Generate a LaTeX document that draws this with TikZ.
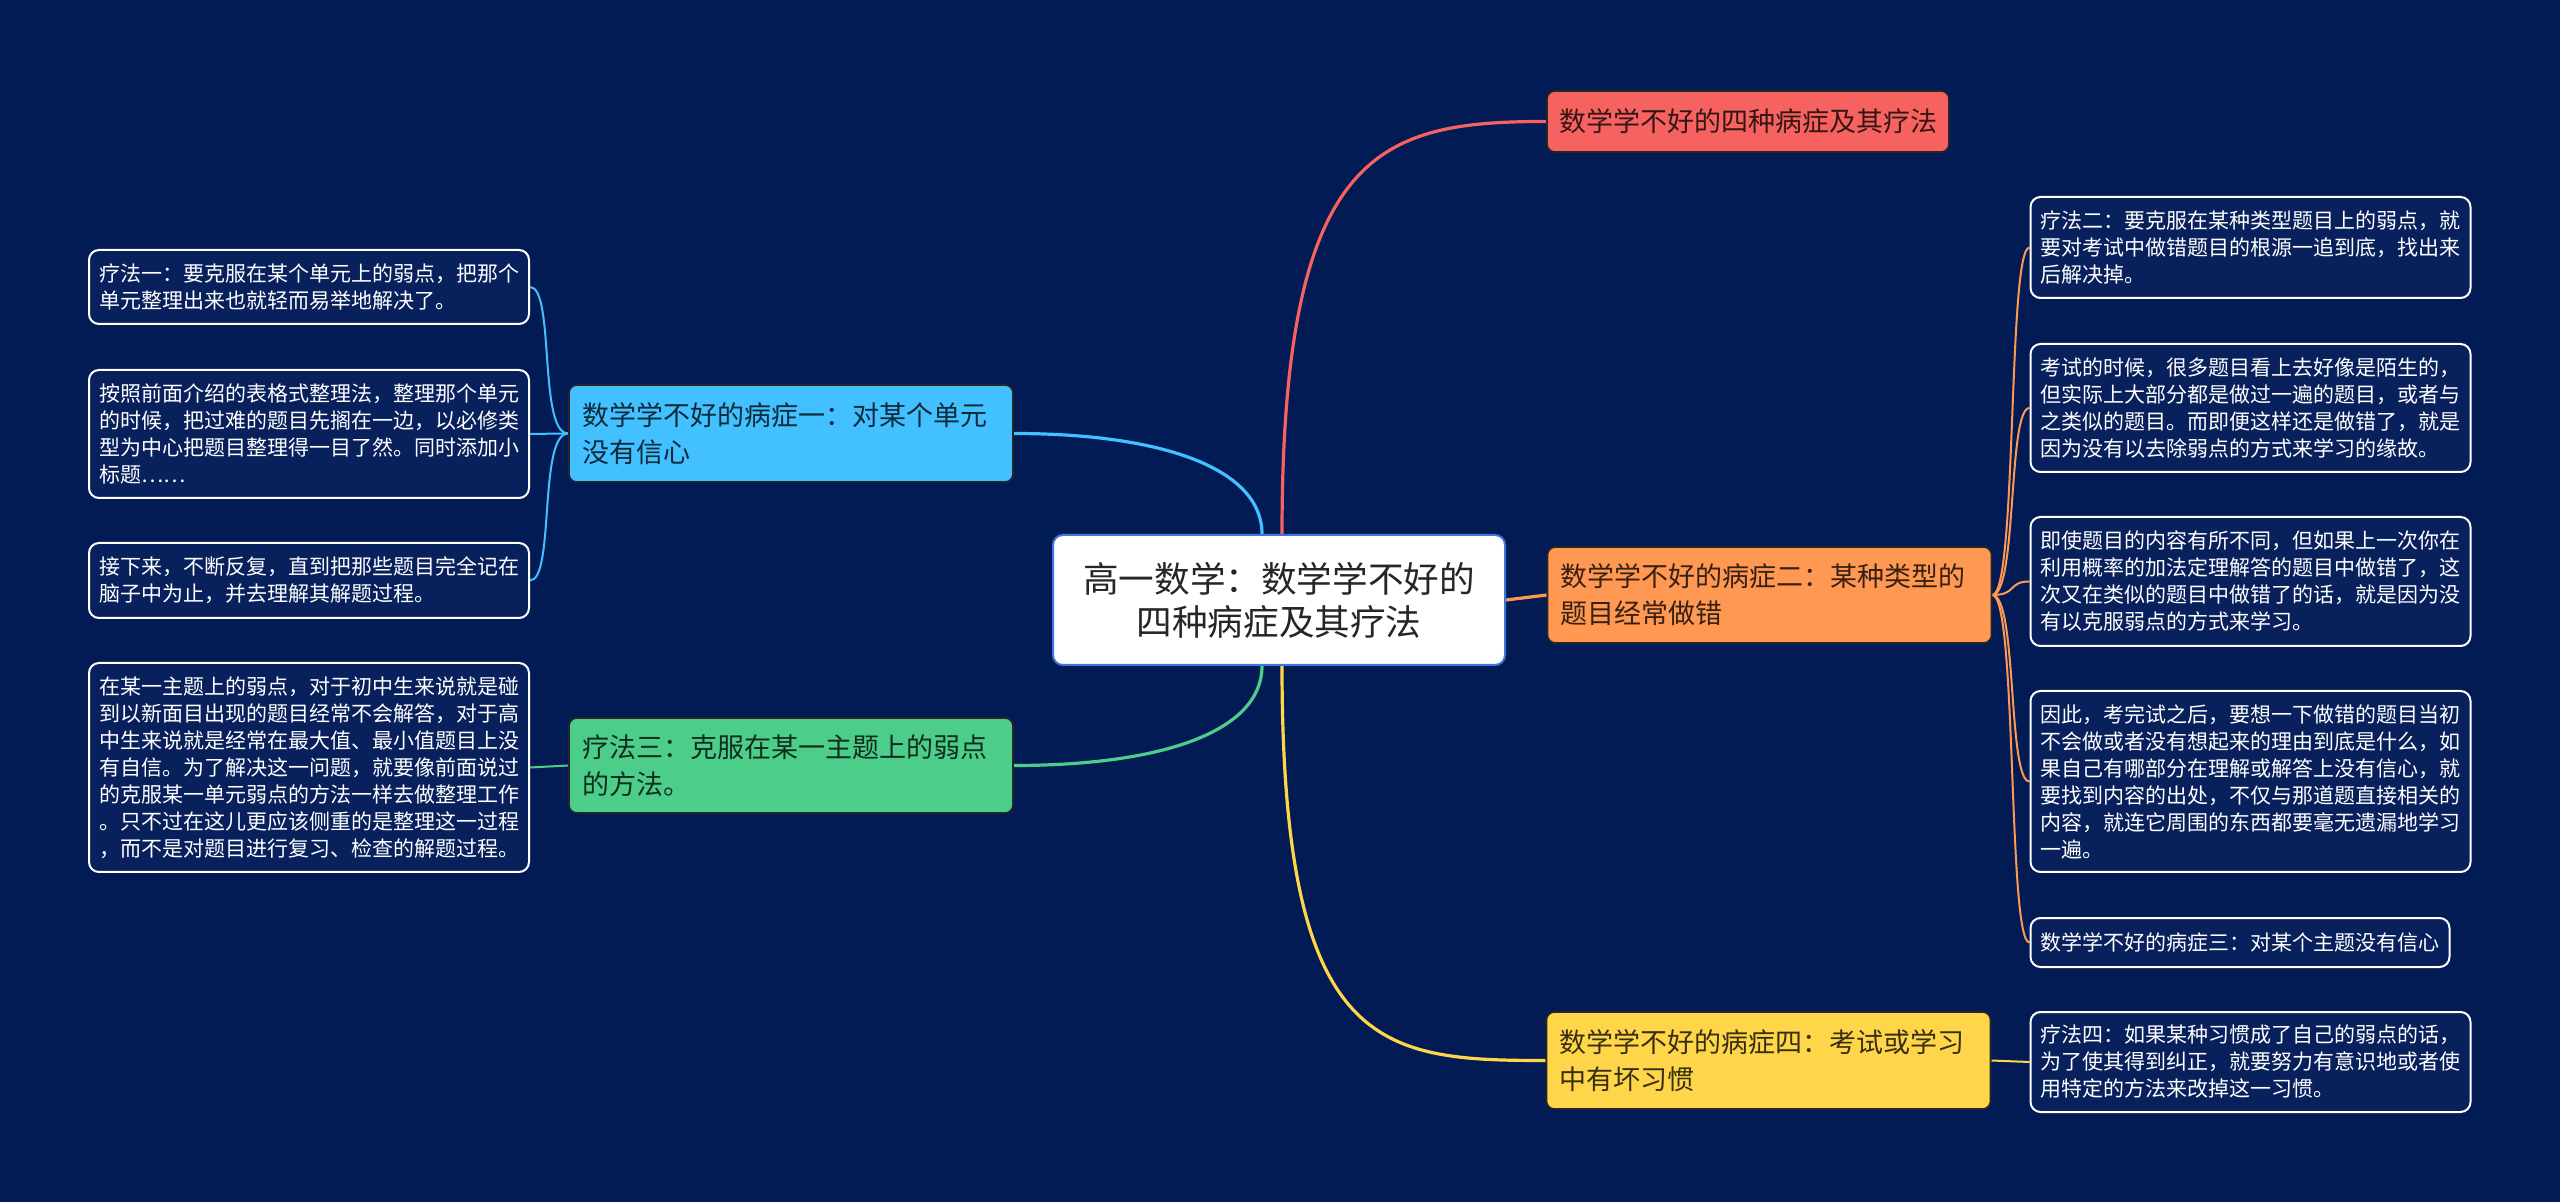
\documentclass[tikz,border=0pt]{standalone}
\usepackage{fontspec}
\setmainfont{Noto Sans CJK SC}
\usetikzlibrary{backgrounds}
\definecolor{bgc}{RGB}{3,27,84}
\definecolor{leaffill}{RGB}{8,32,92}
\definecolor{rootborder}{RGB}{60,120,220}
\definecolor{cred}{RGB}{245,98,96}
\definecolor{corange}{RGB}{255,152,82}
\definecolor{cyellow}{RGB}{255,214,74}
\definecolor{cblue}{RGB}{66,192,255}
\definecolor{cgreen}{RGB}{76,206,138}
\tikzset{
  rootbox/.style={fill=white, draw=rootborder, line width=1pt, rounded corners=5pt,
    font=\fontsize{17.8pt}{21.5pt}\selectfont, text=black!85, align=center,
    minimum width=226pt, minimum height=65pt, inner sep=0pt},
  topic/.style={rounded corners=4pt, draw=black!85, line width=0.8pt, fill=#1, text=#1!22!black,
    font=\fontsize{13.5pt}{18.5pt}\selectfont, inner xsep=6.5pt, inner ysep=0pt},
  topicw/.style={topic=#1, text width=209pt, align=left},
  leaf/.style={fill=leaffill, draw=white, line width=1pt, rounded corners=5pt, text=white,
    font=\fontsize{10.5pt}{13.5pt}\selectfont, inner xsep=5pt, inner ysep=0pt},
  leafw/.style={leaf, text width=210pt, align=left},
  mainlink/.style={line width=1.6pt},
  sublink/.style={line width=1pt},
}
\begin{document}
\begin{tikzpicture}[x=0.5pt,y=-0.5pt]
\useasboundingbox (0,0) rectangle (2560,1202);
% root
\node[rootbox] (root) at (1279,600) {高一数学：数学学不好的\\四种病症及其疗法};
% main topics
\node[topicw=cblue, minimum height=48.5pt] (blue) at (791,433.5) {数学学不好的病症一：对某个单元\\没有信心};
\node[topicw=cgreen, minimum height=47.5pt] (green) at (791,765.5) {疗法三：克服在某一主题上的弱点\\的方法。};
\node[topic=cred, minimum height=30.5pt, inner xsep=6pt] (red) at (1748,121.5) {数学学不好的四种病症及其疗法};
\node[topicw=corange, minimum height=48pt] (orange) at (1769.5,595) {数学学不好的病症二：某种类型的\\题目经常做错};
\node[topicw=cyellow, minimum height=48.5pt] (yellow) at (1768.5,1060.5) {数学学不好的病症四：考试或学习\\中有坏习惯};
% left leaves
\node[leafw, minimum height=37pt] (L1) at (309,287) {疗法一：要克服在某个单元上的弱点，把那个\\单元整理出来也就轻而易举地解决了。};
\node[leafw, minimum height=64pt] (L2) at (309,434) {按照前面介绍的表格式整理法，整理那个单元\\的时候，把过难的题目先搁在一边，以必修类\\型为中心把题目整理得一目了然。同时添加小\\标题……};
\node[leafw, minimum height=37.5pt] (L3) at (309,580.5) {接下来，不断反复，直到把那些题目完全记在\\脑子中为止，并去理解其解题过程。};
\node[leafw, minimum height=104.5pt] (L4) at (309,767.5) {在某一主题上的弱点，对于初中生来说就是碰\\到以新面目出现的题目经常不会解答，对于高\\中生来说就是经常在最大值、最小值题目上没\\有自信。为了解决这一问题，就要像前面说过\\的克服某一单元弱点的方法一样去做整理工作\\。只不过在这儿更应该侧重的是整理这一过程\\，而不是对题目进行复习、检查的解题过程。};
% right leaves
\node[leafw, minimum height=50.5pt] (R1) at (2250.5,247.5) {疗法二：要克服在某种类型题目上的弱点，就\\要对考试中做错题目的根源一追到底，找出来\\后解决掉。};
\node[leafw, minimum height=64pt] (R2) at (2250.5,408) {考试的时候，很多题目看上去好像是陌生的，\\但实际上大部分都是做过一遍的题目，或者与\\之类似的题目。而即便这样还是做错了，就是\\因为没有以去除弱点的方式来学习的缘故。};
\node[leafw, minimum height=64.5pt] (R3) at (2250.5,581.5) {即使题目的内容有所不同，但如果上一次你在\\利用概率的加法定理解答的题目中做错了，这\\次又在类似的题目中做错了的话，就是因为没\\有以克服弱点的方式来学习。};
\node[leafw, minimum height=90.5pt] (R4) at (2250.5,781.5) {因此，考完试之后，要想一下做错的题目当初\\不会做或者没有想起来的理由到底是什么，如\\果自己有哪部分在理解或解答上没有信心，就\\要找到内容的出处，不仅与那道题直接相关的\\内容，就连它周围的东西都要毫无遗漏地学习\\一遍。};
\node[leaf, minimum height=24.5pt] (R5) at (2240,942.5) {数学学不好的病症三：对某个主题没有信心};
\node[leafw, minimum height=50pt] (R6) at (2250.5,1062) {疗法四：如果某种习惯成了自己的弱点的话，\\为了使其得到纠正，就要努力有意识地或者使\\用特定的方法来改掉这一习惯。};
% connectors and background
\begin{pgfonlayer}{background}
\fill[bgc] (0,0) rectangle (2560,1202);
\draw[mainlink, cred] ([xshift=1.5pt]root.north) .. controls +(0,-385) and +(-167,0) .. (red.west);
\draw[mainlink, cyellow] ([xshift=1.5pt]root.south) .. controls +(0,385) and +(-167,0) .. (yellow.west);
\draw[mainlink, cblue] (blue.east) .. controls +(150,0) and +(0,-65) .. ([xshift=-8.5pt]root.north);
\draw[mainlink, cgreen] (green.east) .. controls +(150,0) and +(0,65) .. ([xshift=-8.5pt]root.south);
\draw[mainlink, corange] (root.east) -- (orange.west);
\foreach \t in {L1,L2,L3}
  \draw[sublink, cblue] (blue.west) .. controls +(-30,0) and +(25,0) .. (\t.east);
\draw[sublink, cgreen] (green.west) -- (L4.east);
\foreach \t in {R1,R2,R3,R4,R5}
  \draw[sublink, corange] (orange.east) .. controls +(25,0) and +(-22,0) .. (\t.west);
\draw[sublink, cyellow] (yellow.east) -- (R6.west);
\end{pgfonlayer}
\end{tikzpicture}
\end{document}
